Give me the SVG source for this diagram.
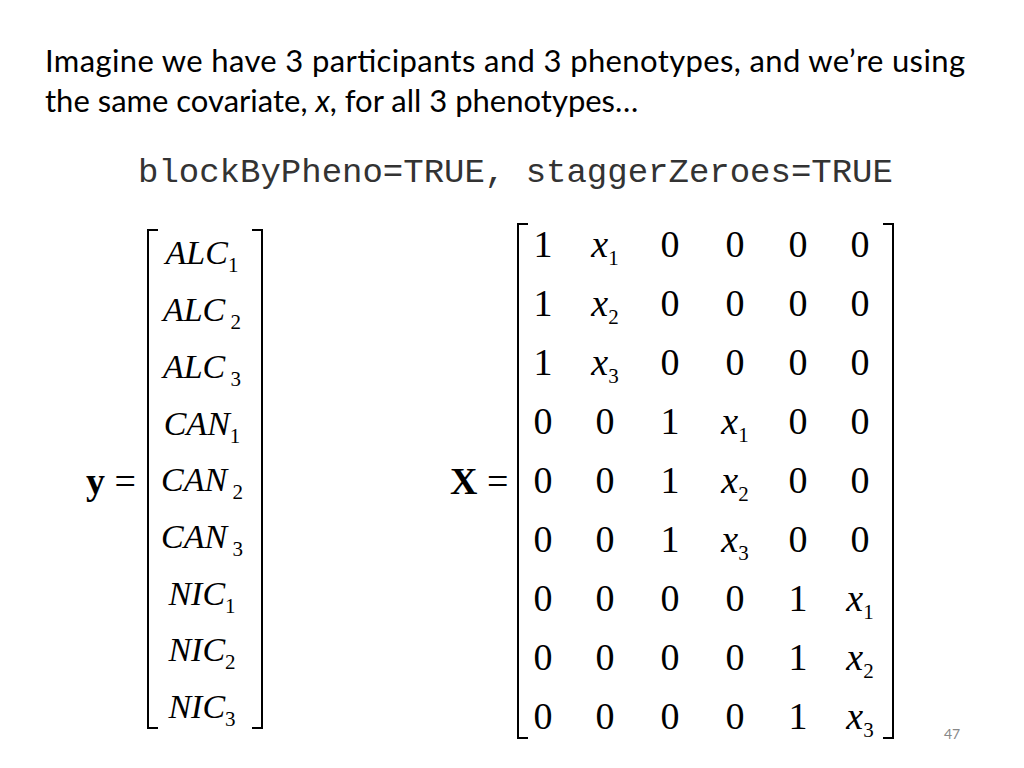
<svg xmlns="http://www.w3.org/2000/svg" width="1024" height="768" viewBox="0 0 1024 768">
<style>
.t{font-family:Lato,"Open Sans",sans-serif;font-size:31px;fill:#000}
.c{font-family:"Liberation Mono",monospace;font-size:34px;fill:#333}
.m{font-family:"Liberation Serif",serif;font-size:38px;fill:#000}
.v{font-size:34px}
.i{font-style:italic}
.s{font-size:21px;font-style:normal}
.b{fill:none;stroke:#000;stroke-width:2}
</style>
<rect width="1024" height="768" fill="#fff"/>
<text class="t" x="45" y="72" textLength="920">Imagine we have 3 participants and 3 phenotypes, and we’re using</text>
<text class="t" x="45" y="112">the same covariate, <tspan font-style="italic">x</tspan>, for all 3 phenotypes…</text>
<text class="c" x="138" y="182">blockByPheno=TRUE, staggerZeroes=TRUE</text>
<g id="y">
<text class="m" x="86" y="494"><tspan font-weight="bold">y</tspan> =</text>
<path class="b" d="M158,230 H148 V728 H158 M252,230 H262 V728 H252"/>
<g class="m v" text-anchor="middle">
<text x="202" y="264"><tspan class="i">ALC</tspan><tspan class="s" dy="8">1</tspan></text>
<text x="202" y="321"><tspan class="i">ALC</tspan><tspan class="s" dy="8"> 2</tspan></text>
<text x="202" y="378"><tspan class="i">ALC</tspan><tspan class="s" dy="8"> 3</tspan></text>
<text x="202" y="435"><tspan class="i">CAN</tspan><tspan class="s" dy="8">1</tspan></text>
<text x="202" y="491"><tspan class="i">CAN</tspan><tspan class="s" dy="8"> 2</tspan></text>
<text x="202" y="548"><tspan class="i">CAN</tspan><tspan class="s" dy="8"> 3</tspan></text>
<text x="202" y="605"><tspan class="i">NIC</tspan><tspan class="s" dy="8">1</tspan></text>
<text x="202" y="661"><tspan class="i">NIC</tspan><tspan class="s" dy="8">2</tspan></text>
<text x="202" y="718"><tspan class="i">NIC</tspan><tspan class="s" dy="8">3</tspan></text>
</g>
</g>
<g id="X">
<text class="m" x="450" y="494"><tspan font-weight="bold">X</tspan> =</text>
<path class="b" d="M528,224 H518 V738 H528 M883,224 H893 V738 H883"/>
<g class="m" text-anchor="middle">
<text x="543" y="257">1</text><text x="605" y="257"><tspan class="i">x</tspan><tspan class="s" dy="8">1</tspan></text><text x="670" y="257">0</text><text x="735" y="257">0</text><text x="798" y="257">0</text><text x="860" y="257">0</text>
<text x="543" y="316">1</text><text x="605" y="316"><tspan class="i">x</tspan><tspan class="s" dy="8">2</tspan></text><text x="670" y="316">0</text><text x="735" y="316">0</text><text x="798" y="316">0</text><text x="860" y="316">0</text>
<text x="543" y="375">1</text><text x="605" y="375"><tspan class="i">x</tspan><tspan class="s" dy="8">3</tspan></text><text x="670" y="375">0</text><text x="735" y="375">0</text><text x="798" y="375">0</text><text x="860" y="375">0</text>
<text x="543" y="434">0</text><text x="605" y="434">0</text><text x="670" y="434">1</text><text x="735" y="434"><tspan class="i">x</tspan><tspan class="s" dy="8">1</tspan></text><text x="798" y="434">0</text><text x="860" y="434">0</text>
<text x="543" y="493">0</text><text x="605" y="493">0</text><text x="670" y="493">1</text><text x="735" y="493"><tspan class="i">x</tspan><tspan class="s" dy="8">2</tspan></text><text x="798" y="493">0</text><text x="860" y="493">0</text>
<text x="543" y="552">0</text><text x="605" y="552">0</text><text x="670" y="552">1</text><text x="735" y="552"><tspan class="i">x</tspan><tspan class="s" dy="8">3</tspan></text><text x="798" y="552">0</text><text x="860" y="552">0</text>
<text x="543" y="611">0</text><text x="605" y="611">0</text><text x="670" y="611">0</text><text x="735" y="611">0</text><text x="798" y="611">1</text><text x="860" y="611"><tspan class="i">x</tspan><tspan class="s" dy="8">1</tspan></text>
<text x="543" y="670">0</text><text x="605" y="670">0</text><text x="670" y="670">0</text><text x="735" y="670">0</text><text x="798" y="670">1</text><text x="860" y="670"><tspan class="i">x</tspan><tspan class="s" dy="8">2</tspan></text>
<text x="543" y="729">0</text><text x="605" y="729">0</text><text x="670" y="729">0</text><text x="735" y="729">0</text><text x="798" y="729">1</text><text x="860" y="729"><tspan class="i">x</tspan><tspan class="s" dy="8">3</tspan></text>
</g>
</g>
<text x="944" y="739" font-family="Lato,sans-serif" font-size="14" fill="#888">47</text>
</svg>
